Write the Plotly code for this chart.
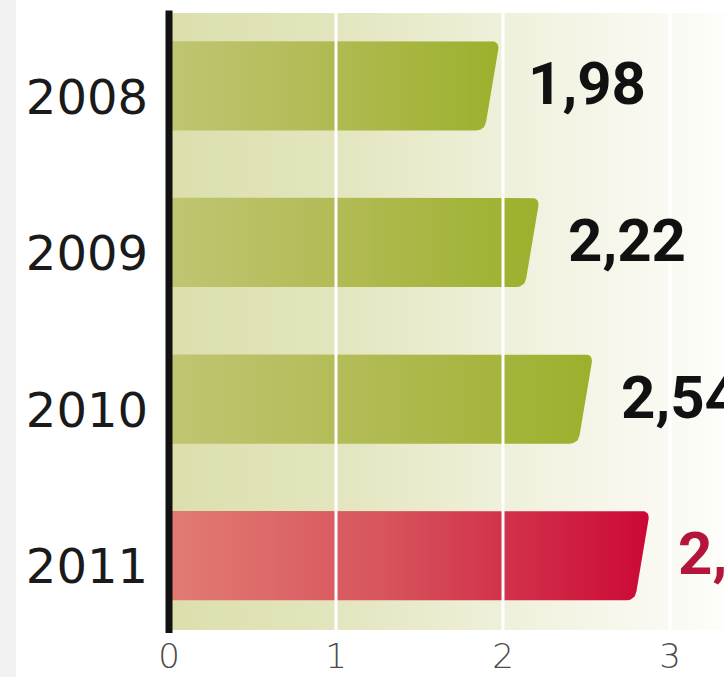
import plotly.graph_objects as go

# Data
years = ["2008", "2009", "2010", "2011"]
values = [1.98, 2.22, 2.54, 2.88]
value_labels = ["1,98", "2,22", "2,54", "2,88"]
x_ticks = [0, 1, 2, 3]

# Styling
GREEN_SCALE = [[0, "#c0c572"], [0.45, "#b2bb55"], [1, "#9db02c"]]
RED_SCALE = [[0, "#e27b74"], [0.45, "#d7545c"], [1, "#cc0836"]]
BG_SCALE = [[0, "#dcdfac"], [0.3, "#e3e5be"], [0.6, "#eff0da"], [0.85, "#f8f8ef"], [1, "#fdfdfa"]]
LABEL_COLORS = ["#111111", "#111111", "#111111", "#b3153b"]

W, H = 724, 677
M_L, M_R, M_T, M_B = 169, 0, 13, 47
X_MAX = (W - M_L - M_R) / 167.0
Y_RANGE = [3.475, -0.465]

plot_w = W - M_L - M_R
plot_h = H - M_T - M_B
px_x = plot_w / X_MAX
px_y = plot_h / (Y_RANGE[0] - Y_RANGE[1])

BAR_FRAC = 0.57      # bar thickness as a share of the category step
SLANT_PX = 15        # right end leans back toward the bottom
RADIUS_PX = 9


def bar_outline(value, yc):
    """Outline of a bar with a slanted, rounded right end, in data units."""
    w = value * px_x
    h = BAR_FRAC * px_y
    corners = [(0, 0), (w, 0), (w - SLANT_PX, h), (0, h)]
    pts = [corners[0]]
    for i in (1, 2):
        px_, py_ = corners[i - 1]
        cx, cy = corners[i]
        nx, ny = corners[i + 1]
        d1 = ((cx - px_) ** 2 + (cy - py_) ** 2) ** 0.5
        d2 = ((nx - cx) ** 2 + (ny - cy) ** 2) ** 0.5
        a = (cx + (px_ - cx) * RADIUS_PX / d1, cy + (py_ - cy) * RADIUS_PX / d1)
        b = (cx + (nx - cx) * RADIUS_PX / d2, cy + (ny - cy) * RADIUS_PX / d2)
        for k in range(11):
            t = k / 10
            bx = (1 - t) ** 2 * a[0] + 2 * (1 - t) * t * cx + t ** 2 * b[0]
            by = (1 - t) ** 2 * a[1] + 2 * (1 - t) * t * cy + t ** 2 * b[1]
            pts.append((bx, by))
    pts.append(corners[3])
    pts.append(corners[0])
    xs = [p[0] / px_x for p in pts]
    ys = [yc - BAR_FRAC / 2 + p[1] / px_y for p in pts]
    return xs, ys


fig = go.Figure()

# Plot-area backdrop fading to white on the right
fig.add_trace(go.Scatter(
    x=[0, X_MAX, X_MAX, 0, 0],
    y=[Y_RANGE[1], Y_RANGE[1], Y_RANGE[0], Y_RANGE[0], Y_RANGE[1]],
    mode="lines", line=dict(width=0), fill="toself",
    fillgradient=dict(type="horizontal", colorscale=BG_SCALE, start=0, stop=X_MAX),
    hoverinfo="skip", showlegend=False,
))

# Bars
for i, v in enumerate(values):
    xs, ys = bar_outline(v, i)
    scale = RED_SCALE if i == len(values) - 1 else GREEN_SCALE
    fig.add_trace(go.Scatter(
        x=xs, y=ys, mode="lines", line=dict(width=0), fill="toself",
        fillgradient=dict(type="horizontal", colorscale=scale, start=0, stop=v),
        hoverinfo="skip", showlegend=False,
    ))

# Value labels
for i, (v, lab) in enumerate(zip(values, value_labels)):
    fig.add_annotation(
        x=v, y=i, xref="x", yref="y", text=lab, showarrow=False,
        xanchor="left", yanchor="middle", xshift=26, yshift=2,
        font=dict(family="Roboto, sans-serif", size=60, color=LABEL_COLORS[i], weight="bold"),
    )

# White gridlines drawn over the bars
for t in x_ticks[1:]:
    fig.add_shape(type="line", xref="x", yref="paper", x0=t, x1=t, y0=0, y1=1,
                  line=dict(color="white", width=3), layer="above")

# Heavy zero line (paper-referenced so it is not clipped at the plot edge)
fig.add_shape(type="line", xref="paper", yref="paper", x0=0, x1=0, y0=-0.005, y1=1.004,
              line=dict(color="#111111", width=7), layer="above")

# Light grey strip on the far left of the page
fig.add_shape(type="rect", xref="paper", yref="paper",
              x0=-M_L / plot_w, x1=-(M_L - 16) / plot_w, y0=-0.2, y1=1.1,
              fillcolor="#f2f2f2", line=dict(width=0), layer="below")

fig.update_layout(
    width=W, height=H,
    margin=dict(l=M_L, r=M_R, t=M_T, b=M_B, pad=0),
    paper_bgcolor="white", plot_bgcolor="white",
    showlegend=False,
    xaxis=dict(range=[0, X_MAX], tickvals=x_ticks, ticktext=[str(t) for t in x_ticks],
               showgrid=False, zeroline=False, showline=False, ticks="",
               ticklabelstandoff=3, automargin=False,
               tickfont=dict(family="DejaVu Sans", size=34, color="#4a4a4a", weight=200),
               fixedrange=True),
    yaxis=dict(range=Y_RANGE, tickvals=list(range(len(years))), ticktext=years,
               showgrid=False, zeroline=False, showline=False, ticks="",
               ticklabelstandoff=20, ticklabelshift=-11, automargin=False,
               tickfont=dict(family="DejaVu Sans", size=48, color="#1a1a1a"),
               fixedrange=True),
)

fig.write_html("out.html")
